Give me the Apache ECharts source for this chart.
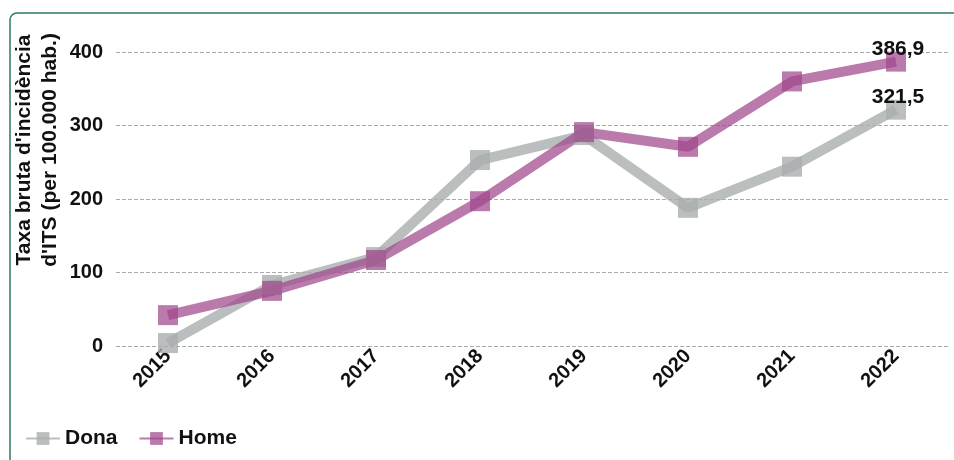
<!DOCTYPE html>
<html>
<head>
<meta charset="utf-8">
<style>
  html, body { margin: 0; padding: 0; background: #fff; }
  #chart { width: 954px; height: 460px; }
</style>
</head>
<body>
<div id="chart"></div>
<script src="https://cdn.jsdelivr.net/npm/echarts@6/dist/echarts.min.js"></script>
<script>
const years = ['2015', '2016', '2017', '2018', '2019', '2020', '2021', '2022'];
const dona = [4, 83, 121, 253, 287, 188, 244, 321.5];
const home = [42, 75, 117, 197, 291, 271, 360, 386.9];
const yTicks = [0, 100, 200, 300, 400];

const font = 'Liberation Sans, Arial, sans-serif';
const grey = 'rgba(170,174,174,0.8)';
const purple = 'rgba(160,70,140,0.72)';

const lastLabel = (arr) => arr.map((v, i) => i === arr.length - 1
    ? { value: v, label: { show: true } } : v);

const labelStyle = {
    show: false, position: 'top', distance: 0, offset: [2, 8],
    fontFamily: font, fontWeight: 'bold', fontSize: 21, color: '#111',
    formatter: p => String(p.value).replace('.', ',')
};

const chart = echarts.init(document.getElementById('chart'));
chart.setOption({
    animation: false,
    grid: { left: 116, right: 6, top: 52, bottom: 114 },
    graphic: [
        {
            type: 'rect', shape: { x: 10, y: 13, width: 1000, height: 500, r: 7 },
            style: { fill: 'none', stroke: '#2f7a62', lineWidth: 1.5 }
        },
        {
            type: 'text', x: 37, y: 150, rotation: Math.PI / 2,
            style: {
                text: "Taxa bruta d'incidència\nd'ITS (per 100.000 hab.)",
                font: 'bold 21px ' + font, fill: '#111',
                align: 'center', verticalAlign: 'middle', lineHeight: 26
            }
        }
    ],
    legend: {
        left: 20, bottom: 6, itemGap: 21, itemWidth: 34, itemHeight: 16,
        textStyle: { fontFamily: font, fontWeight: 'bold', fontSize: 21, color: '#111' },
        data: ['Dona', 'Home']
    },
    xAxis: {
        type: 'category', data: years, boundaryGap: true,
        axisLine: { show: false }, axisTick: { show: false },
        axisLabel: { rotate: 45, margin: 7, fontFamily: font, fontWeight: 'bold', fontSize: 20, color: '#111' }
    },
    yAxis: {
        type: 'value', min: yTicks[0], max: yTicks[yTicks.length - 1], interval: 100,
        axisLine: { show: false }, axisTick: { show: false },
        axisLabel: { margin: 13, fontFamily: font, fontWeight: 'bold', fontSize: 20, color: '#111' },
        splitLine: { lineStyle: { type: 'dashed', color: '#aaa', width: 1 } }
    },
    series: [
        {
            name: 'Dona', type: 'line', data: lastLabel(dona),
            symbol: 'rect', symbolSize: 20,
            lineStyle: { color: grey, width: 10 },
            itemStyle: { color: grey },
            label: labelStyle
        },
        {
            name: 'Home', type: 'line', data: lastLabel(home),
            symbol: 'rect', symbolSize: 20,
            lineStyle: { color: purple, width: 10 },
            itemStyle: { color: purple },
            label: labelStyle
        }
    ]
});
</script>
</body>
</html>
